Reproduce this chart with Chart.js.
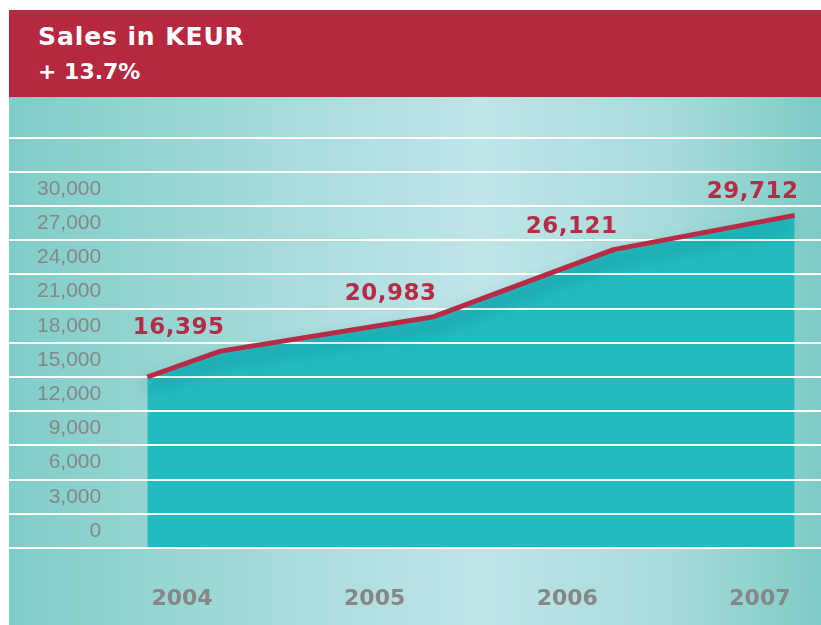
<!DOCTYPE html>
<html>
<head>
<meta charset="utf-8">
<title>Sales in KEUR</title>
<script src="https://cdn.jsdelivr.net/npm/chart.js@4.4.1/dist/chart.umd.min.js"></script>
<style>
  body { margin: 0; background: #fff; }
  #panel { position: absolute; left: 9px; top: 10px; width: 812px; height: 615px; }
  #header { position: absolute; left: 0; top: 0; width: 812px; height: 87px; background: #b5283f; color: #fff; font-family: "DejaVu Sans", sans-serif; font-weight: bold; }
  #titulo { position: absolute; left: 29px; top: 14px; font-size: 25px; line-height: 25px; letter-spacing: 0.9px; }
  #subtitulo { position: absolute; left: 29px; top: 51px; font-size: 22px; line-height: 22px; }
  #area { position: absolute; left: 0; top: 87px; width: 812px; height: 528px;
    background: linear-gradient(to right, #80cdc7 0%, #a9dcdc 35%, #bfe5e7 58%, #a6dbd9 82%, #7ecbc5 100%); }
</style>
</head>
<body>
<div id="panel">
  <div id="header">
    <div id="titulo">Sales in KEUR</div>
    <div id="subtitulo">+ 13.7%</div>
  </div>
  <div id="area"><canvas id="chart" width="812" height="528"></canvas></div>
</div>
<script>
// Dados
const anos = [2004, 2005, 2006, 2007];                       // rótulos do eixo x
const pontosX = [2003.82, 2004.2, 2005.3, 2006.24, 2007.18];  // posição dos vértices (em anos)
const vendas = [15000, 17270, 20260, 26170, 29180];           // altura da linha (KEUR)
const rotulosValor = [null, 16395, 20983, 26121, 29712];      // valores escritos sobre a linha
const limiteTicks = 30000;

const vermelho = "#b82b47";
const cinza = "#878787";

// Sombra da linha, rótulos vermelhos e espaçamento dos anos
const rotulosPlugin = {
  id: "rotulos",
  beforeDatasetDraw(chart) {
    const ctx = chart.ctx;
    ctx.save();
    ctx.shadowColor = "rgba(0, 85, 90, 0.45)";
    ctx.shadowBlur = 16;
    ctx.shadowOffsetY = 10;
  },
  afterDatasetDraw(chart) {
    chart.ctx.restore();
  },
  afterDatasetsDraw(chart) {
    const ctx = chart.ctx;
    const meta = chart.getDatasetMeta(0);
    ctx.save();
    ctx.font = "bold 23px 'DejaVu Sans'";
    ctx.fillStyle = vermelho;
    ctx.textAlign = "right";
    ctx.textBaseline = "middle";
    ctx.letterSpacing = "0.5px";
    rotulosValor.forEach((v, i) => {
      if (v === null) return;
      const p = meta.data[i];
      ctx.fillText(v.toLocaleString("en-US"), p.x + 4, p.y - 23);
    });
    ctx.restore();
    // eixo x (z: 1) é desenhado depois daqui
    ctx.letterSpacing = "2px";
  },
  afterDraw(chart) {
    chart.ctx.letterSpacing = "0px";
  }
};

const chart = new Chart(document.getElementById("chart"), {
  type: "line",
  data: {
    datasets: [{
      data: pontosX.map((x, i) => ({ x, y: vendas[i] })),
      borderColor: vermelho,
      borderWidth: 5,
      borderJoinStyle: "round",
      backgroundColor: "#22bcc0",
      fill: "origin",
      pointRadius: 0,
      tension: 0
    }]
  },
  options: {
    responsive: false,
    animation: false,
    layout: { padding: { top: 34, left: 0, right: 0, bottom: 0 } },
    plugins: {
      legend: { display: false },
      tooltip: { enabled: false },
      filler: { drawTime: "beforeDraw" }
    },
    scales: {
      x: {
        type: "linear",
        min: 2003.102,
        max: 2007.317,
        z: 1,
        grid: { display: false },
        border: { display: false },
        afterBuildTicks: s => { s.ticks = anos.map(v => ({ value: v })); },
        afterFit: s => { s.height = 77; },
        ticks: {
          padding: 30,
          color: cinza,
          font: { family: "DejaVu Sans", size: 22, weight: "bold" },
          maxRotation: 0,
          autoSkip: false,
          callback: v => String(v)
        }
      },
      y: {
        min: 0,
        max: 36000,
        afterFit: s => { s.width = 0; },
        grid: { color: "#ffffff", lineWidth: 2, drawTicks: false },
        border: { display: false },
        ticks: {
          stepSize: 3000,
          mirror: true,
          crossAlign: "far",
          padding: 28,
          labelOffset: -17,
          color: cinza,
          font: { family: "Liberation Sans", size: 21 },
          callback: v => v > limiteTicks ? "" : v.toLocaleString("en-US")
        }
      }
    }
  },
  plugins: [rotulosPlugin]
});
</script>
</body>
</html>
